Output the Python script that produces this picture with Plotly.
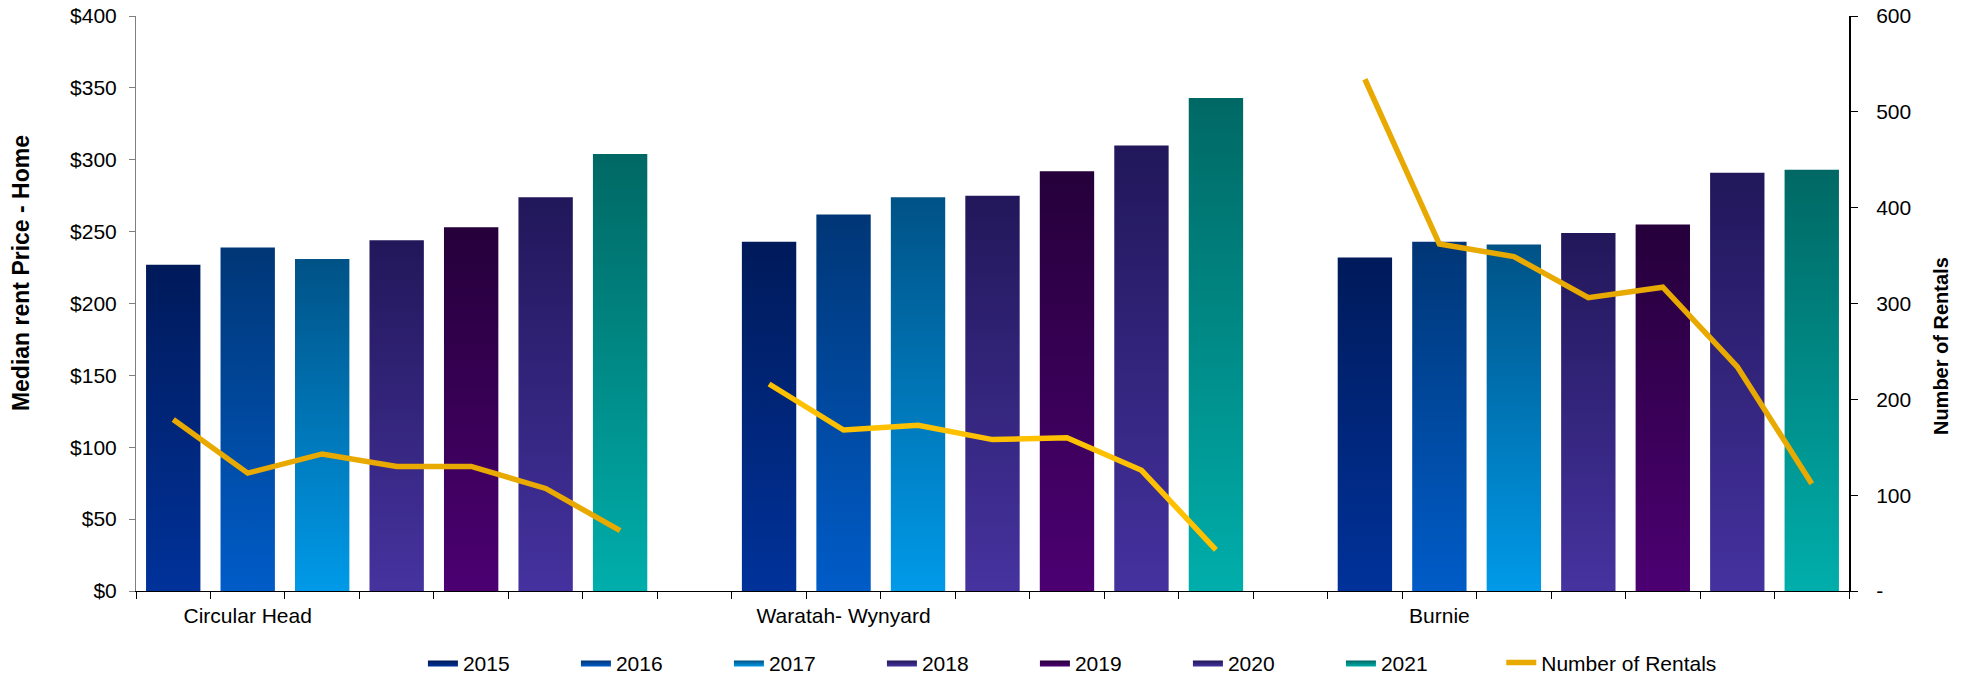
import plotly.graph_objects as go

# Regions and years
regions = ["Circular Head", "Waratah- Wynyard", "Burnie"]
years = ["2015", "2016", "2017", "2018", "2019", "2020", "2021"]

# Median weekly rent (home), one list per year: Circular Head, Waratah- Wynyard, Burnie
rent_2015 = [227, 243, 232]
rent_2016 = [239, 262, 243]
rent_2017 = [231, 274, 241]
rent_2018 = [244, 275, 249]
rent_2019 = [253, 292, 255]
rent_2020 = [274, 310, 291]
rent_2021 = [304, 343, 293]
rent_by_year = [rent_2015, rent_2016, rent_2017, rent_2018, rent_2019, rent_2020, rent_2021]

# Number of rentals per year (2015-2021) for each region
rentals_circular_head = [179, 123, 143, 130, 130, 107, 63]
rentals_waratah_wynyard = [216, 168, 173, 158, 160, 126, 43]
rentals_burnie = [534, 362, 349, 306, 317, 234, 112]
rentals_by_region = [rentals_circular_head, rentals_waratah_wynyard, rentals_burnie]

# Gradient fills (bottom colour, top colour) per year
bar_gradients = [
    ("#00329a", "#001a5a"),
    ("#005cc8", "#003676"),
    ("#009ae8", "#005286"),
    ("#46339f", "#22175a"),
    ("#4c0072", "#25003a"),
    ("#45329f", "#21175a"),
    ("#00aeab", "#006864"),
]
line_colors = ["#E8A900", "#FFC000", "#E8A900"]

FONT = "Liberation Sans, Arial, sans-serif"
n_years = len(years)
stride = n_years + 1          # one empty slot between regions
half_w = 0.365                # half bar width in category units


def slot(g, i):
    return g * stride + i


fig = go.Figure()

# Bars: each drawn as a filled rectangle so it can carry a vertical gradient
for i, (year, values) in enumerate(zip(years, rent_by_year)):
    bottom, top = bar_gradients[i]
    for g, v in enumerate(values):
        xc = slot(g, i)
        fig.add_trace(go.Scatter(
            x=[xc - half_w, xc - half_w, xc + half_w, xc + half_w, xc - half_w],
            y=[0, v, v, 0, 0],
            mode="lines",
            line=dict(width=0, color=top),
            fill="toself",
            fillgradient=dict(type="vertical", colorscale=[[0, bottom], [1, top]],
                              start=0, stop=v),
            name=year,
            legendgroup=year,
            legend="legend",
            showlegend=(g == 0),
            hoverinfo="skip",
            yaxis="y",
        ))

# Number of rentals line, one segment per region on the secondary axis
for g, counts in enumerate(rentals_by_region):
    fig.add_trace(go.Scatter(
        x=[slot(g, i) for i in range(len(counts))],
        y=counts,
        mode="lines",
        line=dict(color=line_colors[g], width=5.5),
        name="Number of Rentals",
        legendgroup="rentals",
        legend="legend2",
        showlegend=(g == 0),
        yaxis="y2",
    ))

n_slots = stride * len(regions) - 1
boundaries = [k - 0.5 for k in range(n_slots + 1)]

fig.update_layout(
    width=1968,
    height=676,
    margin=dict(l=136, r=119, t=16, b=85, autoexpand=False),
    paper_bgcolor="white",
    plot_bgcolor="white",
    font=dict(family=FONT, size=21, color="#000000"),
    xaxis=dict(
        range=[-0.5, n_slots - 0.5],
        tickmode="array",
        tickvals=[slot(g, 1) for g in range(len(regions))],
        ticktext=regions,
        ticks="",
        tickfont=dict(size=21),
        ticklabelstandoff=6,
        showline=True,
        linecolor="#000000",
        linewidth=1,
        showgrid=False,
        zeroline=False,
        minor=dict(tickmode="array", tickvals=boundaries, ticks="outside",
                   ticklen=7, tickcolor="#000000", showgrid=False),
        fixedrange=True,
    ),
    yaxis=dict(
        range=[0, 400],
        dtick=50,
        tickprefix="$",
        ticks="outside",
        ticklen=6,
        tickcolor="#7f7f7f",
        ticklabelstandoff=8,
        tickfont=dict(size=21),
        showline=True,
        linecolor="#7f7f7f",
        linewidth=1,
        showgrid=False,
        zeroline=False,
    ),
    yaxis2=dict(
        range=[0, 600],
        overlaying="y",
        side="right",
        tickmode="array",
        tickvals=[0, 100, 200, 300, 400, 500, 600],
        ticktext=["-", "100", "200", "300", "400", "500", "600"],
        tickfont=dict(size=21),
        ticks="outside",
        ticklen=7,
        tickcolor="#000000",
        ticklabelstandoff=14,
        showline=True,
        linecolor="#000000",
        linewidth=2,
        showgrid=False,
        zeroline=False,
    ),
    legend=dict(
        orientation="h",
        x=0.1675,
        xanchor="left",
        y=-0.125,
        yanchor="middle",
        font=dict(size=21, family=FONT),
        entrywidth=108,
        entrywidthmode="pixels",
        traceorder="normal",
    ),
    legend2=dict(
        orientation="h",
        x=0.797,
        xanchor="left",
        y=-0.125,
        yanchor="middle",
        font=dict(size=21, family=FONT),
    ),
    showlegend=True,
    annotations=[
        dict(text="<b>Median rent Price - Home</b>", textangle=-90,
             xref="paper", yref="paper", x=-0.0671, y=0.553,
             xanchor="center", yanchor="middle", showarrow=False,
             font=dict(size=23, family=FONT)),
        dict(text="<b>Number of Rentals</b>", textangle=-90,
             xref="paper", yref="paper", x=1.0537, y=0.426,
             xanchor="center", yanchor="middle", showarrow=False,
             font=dict(size=20, family=FONT)),
    ],
)

fig.write_html("out.html")
